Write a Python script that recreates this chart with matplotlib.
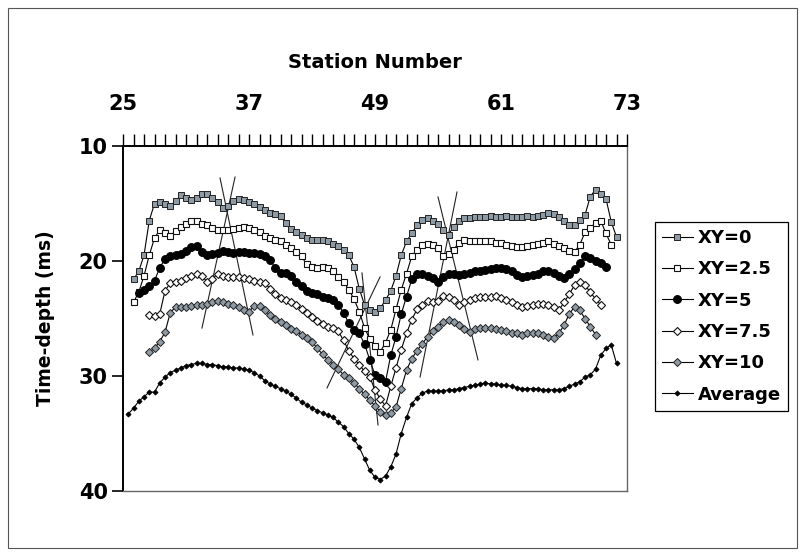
import numpy as np
import matplotlib
matplotlib.use("Agg")
import matplotlib.pyplot as plt
from matplotlib.patches import Rectangle

plt.rcParams['font.family'] = ['DejaVu Sans']

# ---------------- data (station step 0.5) ----------------
xy0_start = 26.0
xy0 = [21.6, 20.9, 19.5, 16.5, 15.0, 14.9, 15.0, 15.2, 14.8, 14.3, 14.5, 14.7, 14.5, 14.2, 14.2, 14.5,
       14.9, 15.4, 15.2, 14.8, 14.6, 14.7, 14.9, 15.0, 15.3, 15.6, 15.8, 15.9, 16.1, 16.7, 17.2, 17.5,
       17.7, 18.0, 18.2, 18.2, 18.2, 18.3, 18.5, 18.7, 19.0, 19.5, 20.5, 22.4, 23.8, 24.3, 24.4, 24.1,
       23.4, 22.6, 21.3, 19.5, 18.3, 17.6, 16.9, 16.4, 16.3, 16.5, 16.8, 17.3, 17.7, 17.0, 16.5, 16.3,
       16.3, 16.2, 16.2, 16.2, 16.1, 16.2, 16.2, 16.1, 16.2, 16.2, 16.2, 16.1, 16.2, 16.1, 16.0, 15.8,
       15.9, 16.2, 16.5, 16.9, 16.9, 16.4, 16.0, 14.4, 13.8, 14.2, 14.6, 16.6, 17.9]

xy25_start = 26.0
xy25 = [23.6, 22.7, 21.3, 19.5, 18.0, 17.3, 17.6, 17.8, 17.4, 17.0, 16.8, 16.5, 16.5, 16.8, 16.9, 17.1,
        17.3, 17.3, 17.3, 17.2, 17.1, 17.0, 17.1, 17.3, 17.5, 17.8, 18.0, 18.2, 18.3, 18.6, 18.9, 19.2,
        19.6, 20.3, 20.5, 20.6, 20.5, 20.6, 20.9, 21.4, 21.8, 22.5, 23.3, 24.4, 25.8, 26.8, 27.4, 27.9,
        27.1, 26.0, 24.2, 22.5, 21.1, 19.6, 19.0, 18.6, 18.5, 18.6, 18.9, 19.6, 19.4, 19.0, 18.4, 18.2,
        18.3, 18.3, 18.3, 18.3, 18.3, 18.4, 18.4, 18.6, 18.7, 18.8, 18.8, 18.7, 18.6, 18.5, 18.4, 18.3,
        18.5, 18.7, 18.9, 19.1, 19.2, 18.6, 17.5, 17.1, 16.7, 16.5, 17.6, 18.6]

xy5_start = 26.5
xy5 = [22.8, 22.5, 22.2, 21.7, 20.6, 19.8, 19.6, 19.5, 19.4, 19.1, 18.8, 18.7, 19.2, 19.5, 19.4, 19.3,
       19.1, 19.2, 19.3, 19.2, 19.2, 19.3, 19.3, 19.4, 19.6, 19.9, 20.6, 21.0, 21.0, 21.3, 21.8, 22.2,
       22.6, 22.8, 22.9, 23.1, 23.2, 23.4, 23.8, 24.5, 25.4, 26.0, 26.3, 27.2, 28.6, 29.9, 30.2, 30.5,
       28.2, 26.6, 24.6, 23.1, 21.6, 21.1, 21.1, 21.3, 21.5, 21.8, 21.4, 21.1, 21.1, 21.2, 21.1, 21.0,
       20.9, 20.9, 20.8, 20.7, 20.6, 20.6, 20.7, 20.9, 21.2, 21.4, 21.3, 21.2, 21.1, 20.9, 20.9, 21.0,
       21.3, 21.5, 21.1, 20.7, 20.2, 19.6, 19.7, 20.0, 20.2, 20.5]

xy75_start = 27.5
xy75 = [24.7, 24.8, 24.6, 22.6, 21.9, 21.8, 21.7, 21.5, 21.3, 21.1, 21.3, 21.8, 21.6, 21.1, 21.3, 21.4,
        21.4, 21.4, 21.5, 21.6, 21.7, 21.8, 21.9, 22.4, 22.9, 23.2, 23.4, 23.6, 23.8, 24.2, 24.5, 24.9,
        25.2, 25.5, 25.7, 25.8, 26.1, 26.9, 27.8, 28.5, 29.0, 29.6, 30.1, 31.2, 32.0, 32.6, 30.9, 29.3,
        27.7, 26.3, 25.1, 24.2, 23.8, 23.5, 23.6, 23.5, 23.0, 23.1, 23.4, 23.8, 23.6, 23.4, 23.2, 23.1,
        23.1, 23.1, 23.0, 23.2, 23.4, 23.6, 23.8, 24.0, 23.9, 23.8, 23.7, 23.7, 23.8, 24.0, 24.3, 23.6,
        22.9, 22.1, 21.8, 22.1, 22.7, 23.3, 23.8]

xy10_start = 27.5
xy10 = [27.9, 27.6, 27.0, 26.2, 24.5, 24.0, 24.0, 24.0, 23.9, 23.8, 23.8, 23.7, 23.6, 23.5, 23.6, 23.7,
        23.8, 24.0, 24.3, 24.4, 23.9, 23.9, 24.3, 24.7, 25.0, 25.3, 25.6, 25.9, 26.1, 26.4, 26.7, 27.0,
        27.6, 28.1, 28.6, 29.0, 29.4, 29.9, 30.2, 30.6, 31.1, 31.6, 32.1, 32.6, 33.1, 33.4, 33.2, 32.7,
        31.1, 29.5, 28.5, 27.8, 27.2, 26.6, 26.1, 25.7, 25.3, 25.1, 25.3, 25.6, 25.9, 26.2, 25.9, 25.8,
        25.8, 25.8, 25.9, 26.0, 26.1, 26.3, 26.3, 26.4, 26.3, 26.3, 26.3, 26.4, 26.6, 26.7, 26.3, 25.6,
        24.6, 24.0, 24.3, 25.0, 25.7, 26.4]

avg_start = 25.5
avg = [33.3, 32.8, 32.2, 31.8, 31.4, 31.4, 30.6, 30.1, 29.7, 29.5, 29.3, 29.1, 29.0, 28.9, 28.9, 29.0,
       29.0, 29.1, 29.2, 29.2, 29.3, 29.3, 29.4, 29.5, 29.7, 30.0, 30.4, 30.7, 30.9, 31.1, 31.3, 31.6,
       31.9, 32.3, 32.5, 32.8, 33.0, 33.2, 33.4, 33.6, 34.0, 34.4, 35.0, 35.5, 36.2, 37.2, 38.2, 38.8,
       39.0, 38.7, 37.9, 36.8, 35.0, 33.6, 32.4, 31.9, 31.5, 31.3, 31.3, 31.3, 31.3, 31.2, 31.2, 31.1,
       31.0, 30.9, 30.8, 30.7, 30.6, 30.7, 30.7, 30.8, 30.8, 30.9, 31.0, 31.1, 31.1, 31.1, 31.1, 31.2,
       31.2, 31.2, 31.2, 31.1, 30.9, 30.7, 30.5, 30.1, 29.9, 29.4, 28.2, 27.6, 27.3, 28.9]

step = 0.5

# thin interpretation lines: (x0, y0, x1, y1) in station / ms
fault_lines = [
    (35.67, 12.70, 32.52, 25.83),
    (34.24, 12.78, 37.38, 26.43),
    (49.48, 21.39, 44.43, 31.04),
    (47.76, 21.04, 49.29, 34.26),
    (56.81, 14.00, 53.29, 30.09),
    (55.00, 14.43, 58.81, 28.60),
]

series_labels = ["XY=0", "XY=2.5", "XY=5", "XY=7.5", "XY=10", "Average"]
x_major = [25, 37, 49, 61, 73]
y_major = [10, 20, 30, 40]

# ---------------- figure ----------------
W, H = 804, 556
fig = plt.figure(figsize=(W / 100, H / 100), dpi=100)
fig.patches.append(Rectangle((8 / W, 8 / H), 789 / W, 540 / H, transform=fig.transFigure,
                             fill=False, edgecolor='#555555', linewidth=0.8))

L, R, T, B = 123, 627, 146, 491
ax = fig.add_axes([L / W, 1 - B / H, (R - L) / W, (B - T) / H])

gray = '#8e9aa4'
styles = [
    dict(marker='s', ms=4.5, mfc=gray, mec='#222222', mew=0.7),
    dict(marker='s', ms=4.5, mfc='white', mec='#111111', mew=0.8),
    dict(marker='o', ms=5.6, mfc='black', mec='black', mew=0.8),
    dict(marker='D', ms=4.1, mfc='white', mec='#111111', mew=0.8),
    dict(marker='D', ms=4.1, mfc=gray, mec='#222222', mew=0.7),
    dict(marker='D', ms=2.6, mfc='black', mec='black', mew=0.6),
]
data = [(xy0_start, xy0), (xy25_start, xy25), (xy5_start, xy5),
        (xy75_start, xy75), (xy10_start, xy10), (avg_start, avg)]

for fl in fault_lines:
    ax.plot([fl[0], fl[2]], [fl[1], fl[3]], color='#222222', lw=0.8, zorder=1)

for (s0, vals), st, lab in zip(data, styles, series_labels):
    xs = s0 + step * np.arange(len(vals))
    ax.plot(xs, vals, color='black', lw=0.8, label=lab, zorder=2, **st)

ax.set_xlim(25, 73)
ax.set_ylim(40, 10)
ax.xaxis.tick_top()
ax.xaxis.set_label_position('top')
ax.set_xticks(x_major)
ax.set_xticks(np.arange(25, 74, 1), minor=True)
ax.set_yticks(y_major)
ax.tick_params(axis='x', which='both', direction='out', length=9, width=1.0, color='black',
               top=True, bottom=False, pad=14)
ax.tick_params(axis='x', which='major', labelsize=15)
ax.tick_params(axis='y', which='major', direction='out', length=8, width=1.2, pad=3, labelsize=15)
for lbl in ax.get_xticklabels() + ax.get_yticklabels():
    lbl.set_fontweight('bold')
ax.set_xlabel('Station Number', fontsize=14, fontweight='bold', labelpad=19)
ax.set_ylabel('Time-depth (ms)', fontsize=13.5, fontweight='bold', labelpad=17)

ax.spines['top'].set_color('black')
ax.spines['top'].set_linewidth(1.4)
ax.spines['left'].set_color('black')
ax.spines['left'].set_linewidth(1.4)
ax.spines['right'].set_color('#666666')
ax.spines['right'].set_linewidth(1.0)
ax.spines['bottom'].set_color('#666666')
ax.spines['bottom'].set_linewidth(1.0)

leg = fig.legend(loc='upper left', bbox_to_anchor=(655 / W, 1 - 222 / H), frameon=True,
                 fancybox=False, edgecolor='black', framealpha=1,
                 prop={'weight': 'bold', 'size': 13}, handlelength=1.7, handletextpad=0.3,
                 labelspacing=0.74, borderpad=0.38, borderaxespad=0)
leg.get_frame().set_linewidth(0.9)

fig.savefig('out.png', dpi=100)
